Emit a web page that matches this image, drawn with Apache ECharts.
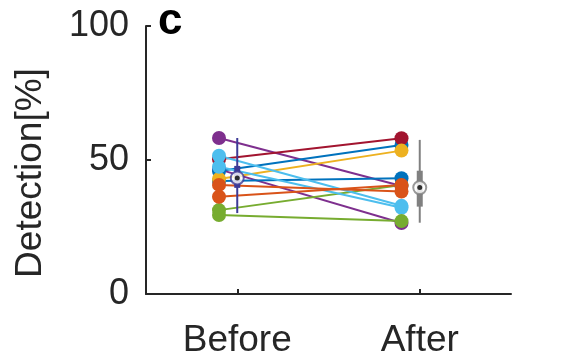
<!DOCTYPE html>
<html>
<head>
<meta charset="utf-8">
<script src="https://cdn.jsdelivr.net/npm/echarts@6/dist/echarts.min.js"></script>
<style>
  html, body { margin: 0; padding: 0; background: #fff; }
  #chart { width: 563px; height: 359px; }
</style>
</head>
<body>
<div id="chart"></div>
<script>
// group labels on the x axis
const groups = ['Before', 'After']
const groupPos = [1, 2]
// one value per subject, before and after (drawing order: first is lowest)
const beforeVals = [46.5, 58.2, 45.9, 31.3, 50.3, 42.2, 42.9, 51.6, 47.5, 36.3, 40.7, 29.5]
const afterVals = [26.5, 40.3, 55.6, 40.7, 58.1, 43.2, 53.5, 32.9, 32.2, 40.7, 38.2, 27.2]
// box summaries: min, q1, median, q3, max
const beforeBox = [30.2, 39.6, 43.3, 47.8, 58.2]
const afterBox = [26.6, 32.6, 39.7, 46.0, 57.5]

const lineColors = ['#7E2F8E', '#7E2F8E', '#0072BD', '#77AC30', '#A2142F', '#0072BD',
  '#EDB120', '#4DBEEE', '#4DBEEE', '#D95319', '#D95319', '#77AC30']
const font = 'Liberation Sans, Arial, sans-serif'
const textColor = '#262626'

const chart = echarts.init(document.getElementById('chart'), null, { renderer: 'canvas' })

const series = []
for (let i = 0; i < beforeVals.length; i++) {
  series.push({
    type: 'line',
    data: [[groupPos[0] - 0.1, beforeVals[i]], [groupPos[1] - 0.1, afterVals[i]]],
    symbol: 'circle',
    symbolSize: 14,
    itemStyle: { color: lineColors[i] },
    lineStyle: { color: lineColors[i], width: 2 },
    animation: false,
    z: 2
  })
}

function addBox(x, box, color) {
  // whisker
  series.push({
    type: 'line',
    data: [[x, box[0]], [x, box[4]]],
    symbol: 'none',
    lineStyle: { color: color, width: 2 },
    animation: false,
    z: 3
  })
  // box
  series.push({
    type: 'line',
    data: [[x, box[1]], [x, box[3]]],
    symbol: 'none',
    lineStyle: { color: color, width: 6 },
    animation: false,
    z: 3
  })
  // median
  series.push({
    type: 'scatter',
    data: [[x, box[2]]],
    symbol: 'circle',
    symbolSize: 13,
    itemStyle: { color: '#fff', borderColor: color, borderWidth: 2 },
    animation: false,
    z: 4
  })
  series.push({
    type: 'scatter',
    data: [[x, box[2]]],
    symbol: 'circle',
    symbolSize: 5,
    itemStyle: { color: '#000' },
    animation: false,
    z: 5
  })
}
addBox(groupPos[0], beforeBox, '#3D3A96')
addBox(groupPos[1], afterBox, '#808080')

const option = {
  backgroundColor: '#fff',
  animation: false,
  grid: { left: 146, right: 52, top: 26, bottom: 65 },
  xAxis: {
    type: 'value',
    min: 0.5,
    max: 2.5,
    splitLine: { show: false },
    axisLine: { lineStyle: { color: textColor, width: 2 } },
    axisTick: {
      inside: true, length: 5,
      customValues: groupPos,
      lineStyle: { color: textColor, width: 2 }
    },
    axisLabel: {
      customValues: groupPos,
      margin: 28,
      fontSize: 37,
      fontFamily: font,
      color: textColor,
      formatter: v => groups[groupPos.indexOf(v)] || ''
    }
  },
  yAxis: {
    type: 'value',
    min: 0,
    max: 100,
    interval: 50,
    name: 'Detection[%]',
    nameLocation: 'middle',
    nameRotate: 90,
    nameGap: 97,
    nameTextStyle: { fontSize: 37, fontFamily: font, color: textColor, padding: [0, 26, 0, 0] },
    splitLine: { show: false },
    axisLine: { show: true, lineStyle: { color: textColor, width: 2 } },
    axisTick: { show: true, inside: true, length: 5, lineStyle: { color: textColor, width: 2 } },
    axisLabel: { margin: 17, fontSize: 36, fontFamily: font, color: textColor }
  },
  graphic: [{
    type: 'text',
    left: 158,
    top: 0,
    style: {
      text: 'c',
      fontSize: 44,
      fontWeight: 'bold',
      fontFamily: font,
      fill: '#000'
    }
  }],
  series: series
}
chart.setOption(option)
</script>
</body>
</html>
